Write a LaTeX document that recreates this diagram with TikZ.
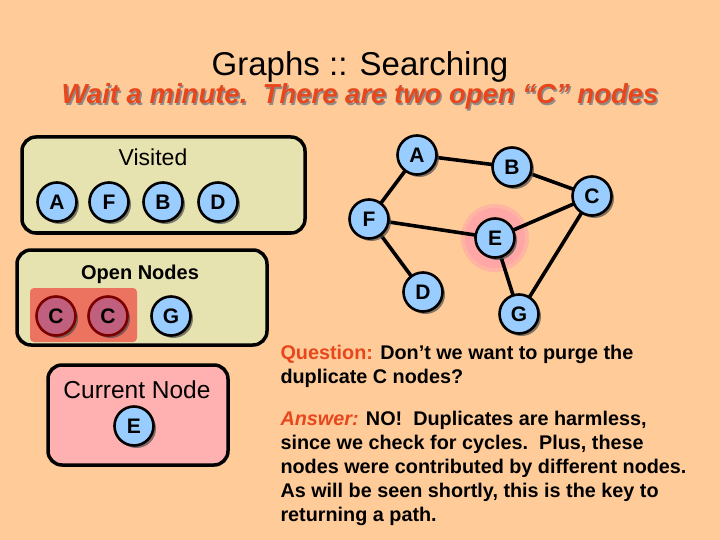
\documentclass[tikz,border=0pt]{standalone}
\usepackage{fontspec}
\setmainfont{Liberation Sans}
\usetikzlibrary{shadows}
\definecolor{bg}{HTML}{FFCC99}
\definecolor{nodeblue}{HTML}{99CCFF}
\definecolor{boxkhaki}{HTML}{E6E3B0}
\definecolor{boxpink}{HTML}{FFB0B0}
\definecolor{hilite}{HTML}{EC7360}
\definecolor{cfill}{HTML}{C0607E}
\definecolor{cborder}{HTML}{7A0000}
\definecolor{orangered}{HTML}{E8461C}
\definecolor{halo}{HTML}{FFA6A6}
\tikzset{
  gnode/.style={circle, draw=black, line width=2.6pt, fill=nodeblue, minimum size=39pt, inner sep=0pt,
    font=\fontsize{21}{21}\selectfont\bfseries,
    drop shadow={shadow xshift=2.5pt, shadow yshift=-2.5pt, fill=black!70, opacity=.7}},
  cnode/.style={gnode, draw=cborder, fill=cfill},
  panel/.style={draw=black, line width=3.5pt, rounded corners=14pt},
  edge/.style={line width=3.6pt, black},
  para/.style={anchor=base west, font=\fontsize{19.8}{24}\selectfont\bfseries},
  subt/.style={font=\fontsize{27.5}{27.5}\selectfont\bfseries\itshape, anchor=base, inner sep=0pt},
}
\begin{document}
\begin{tikzpicture}[x=1pt,y=-1pt]
\fill[bg] (0,0) rectangle (720,540);
\useasboundingbox (0,0) rectangle (720,540);
% titles
\node[font=\fontsize{33}{33}\selectfont, anchor=base, inner sep=0pt] (title) at (360,76) {Graphs :: Searching};
\node[subt, text=black!45] (subshadow) at (361.5,105.5) {Wait a minute.\ \ There are two open “C” nodes};
\node[subt, text=orangered] (sub) at (360,104) {Wait a minute.\ \ There are two open “C” nodes};
% Visited panel
\draw[panel, fill=boxkhaki] (22,137) rectangle (305,233);
\node[font=\fontsize{23}{23}\selectfont] (vlabel) at (153,157) {Visited};
\node[gnode] (vA) at (57,202) {A};
\node[gnode] (vF) at (109,202) {F};
\node[gnode] (vB) at (163,202) {B};
\node[gnode] (vD) at (218,202) {D};
% Open nodes panel
\draw[panel, fill=boxkhaki] (17,250) rectangle (267,345);
\node[font=\fontsize{20}{20}\selectfont\bfseries] (olabel) at (140,274) {Open Nodes};
\fill[hilite, rounded corners=4pt] (30,288) rectangle (137,342);
\node[cnode] (oC1) at (56,316) {C};
\node[cnode] (oC2) at (108,316) {C};
\node[gnode] (oG) at (171,316) {G};
% Current node panel
\draw[panel, fill=boxpink] (48,365) rectangle (228,465);
\node[font=\fontsize{24.5}{24.5}\selectfont] (clabel) at (137,390) {Current Node};
\node[gnode] (cE) at (134,426) {E};
% graph
\fill[halo!60!bg] (495,238) circle (34);
\fill[halo] (495,238) circle (30);
\coordinate (pA) at (417,155);
\coordinate (pB) at (512,167);
\coordinate (pC) at (592,196);
\coordinate (pF) at (369,219);
\coordinate (pE) at (495,238);
\coordinate (pD) at (423,292);
\coordinate (pG) at (519,314);
\draw[edge] (pA) -- (pF);
\draw[edge] (pA) -- (pB);
\draw[edge] (pB) -- (pC);
\draw[edge] (pC) -- (pE);
\draw[edge] (pC) -- (pG);
\draw[edge] (pF) -- (pE);
\draw[edge] (pF) -- (pD);
\draw[edge] (pE) -- (pG);
\node[gnode] (gA) at (pA) {A};
\node[gnode] (gB) at (pB) {B};
\node[gnode] (gC) at (pC) {C};
\node[gnode] (gF) at (pF) {F};
\node[gnode] (gE) at (pE) {E};
\node[gnode] (gD) at (pD) {D};
\node[gnode] (gG) at (pG) {G};
% text
\node[para] (q1) at (277,359) {\textcolor{orangered}{Question:} Don’t we want to purge the};
\node[para] (q2) at (277,383) {duplicate C nodes?};
\node[para] (a1) at (277,425) {\textcolor{orangered}{\itshape Answer:} NO!\ \ Duplicates are harmless,};
\node[para] (a2) at (277,449) {since we check for cycles.\ \ Plus, these};
\node[para] (a3) at (277,473) {nodes were contributed by different nodes.};
\node[para] (a4) at (277,497) {As will be seen shortly, this is the key to};
\node[para] (a5) at (277,521) {returning a path.};
\end{tikzpicture}
\end{document}
